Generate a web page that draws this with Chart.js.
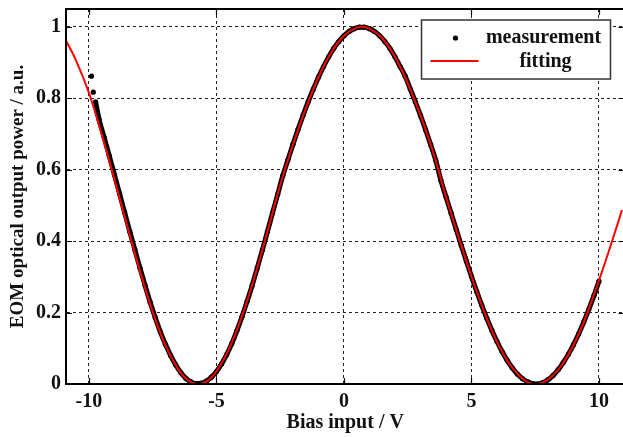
<!DOCTYPE html>
<html>
<head>
<meta charset="utf-8">
<script src="https://cdn.jsdelivr.net/npm/chart.js@4"></script>
<style>
    html, body { margin: 0; padding: 0; background: #fff; overflow: hidden; }
    #wrap { width: 623px; height: 437px; overflow: hidden; }
</style>
</head>
<body>
<div id="wrap"><canvas id="grafico" width="632" height="437"></canvas></div>
<script>
// measured points (bias voltage / normalised power)
const measX = [-9.9, -9.83, -9.74, -9.6, -9.4, -9.2, -9.0, -8.8, -8.6, -8.4, -8.2, -8.0, -7.8, -7.6, -7.4, -7.2, -7.0,
    -6.8, -6.6, -6.4, -6.2, -6.0, -5.8, -5.6, -5.4, -5.2, -5.0, -4.8, -4.6, -4.4, -4.2, -4.0, -3.8, -3.6,
    -3.4, -3.2, -3.0, -2.8, -2.6, -2.4, -2.2, -2.0, -1.8, -1.6, -1.4, -1.2, -1.0, -0.8, -0.6, -0.4, -0.2,
    0.0, 0.2, 0.4, 0.6, 0.8, 1.0, 1.2, 1.4, 1.6, 1.8, 2.0, 2.2, 2.4, 2.6, 2.8, 3.0, 3.2, 3.4, 3.6, 3.8,
    4.0, 4.2, 4.4, 4.6, 4.8, 5.0, 5.2, 5.4, 5.6, 5.8, 6.0, 6.2, 6.4, 6.6, 6.8, 7.0, 7.2, 7.4, 7.6, 7.8,
    8.0, 8.2, 8.4, 8.6, 8.8, 9.0, 9.2, 9.4, 9.6, 9.8, 10.0];
const measY = [0.862, 0.817, 0.790, 0.740, 0.690, 0.638, 0.586, 0.533, 0.480, 0.427, 0.376, 0.325, 0.276, 0.229,
    0.186, 0.146, 0.111, 0.080, 0.054, 0.032, 0.016, 0.006, 0.001, 0.002, 0.008, 0.019, 0.035, 0.056, 0.082,
    0.113, 0.149, 0.188, 0.231, 0.276, 0.325, 0.375, 0.427, 0.479, 0.531, 0.583, 0.627, 0.671, 0.713, 0.753,
    0.791, 0.826, 0.859, 0.889, 0.916, 0.940, 0.959, 0.975, 0.987, 0.995, 0.999, 0.999, 0.995, 0.987, 0.975,
    0.959, 0.940, 0.916, 0.889, 0.862, 0.826, 0.790, 0.752, 0.712, 0.670, 0.626, 0.570, 0.524, 0.479, 0.433,
    0.388, 0.344, 0.301, 0.260, 0.221, 0.184, 0.150, 0.119, 0.091, 0.066, 0.045, 0.028, 0.015, 0.006, 0.001,
    0.000, 0.004, 0.012, 0.024, 0.040, 0.060, 0.083, 0.110, 0.140, 0.173, 0.209, 0.247, 0.288];

// fitted curve
const fitX = [-10.9, -10.5, -10, -9.5, -9, -8.5, -8, -7.5, -7, -6.5, -6.25, -6, -5.72, -5.5, -5.25, -5, -4.5,
    -4, -3.5, -3, -2.5, -2, -1.5, -1, -0.5, 0, 0.5, 0.7, 1, 1.5, 2, 2.5, 3, 3.5, 4, 4.5, 5, 5.5, 6, 6.5, 7,
    7.25, 7.53, 7.75, 8, 8.5, 9, 9.5, 10, 10.5, 10.9];
const fitY = [0.962, 0.905, 0.815, 0.699, 0.573, 0.443, 0.316, 0.202, 0.108, 0.041, 0.019, 0.005, 0, 0.003,
    0.015, 0.035, 0.099, 0.190, 0.301, 0.427, 0.557, 0.670, 0.771, 0.859, 0.928, 0.975, 0.998, 1, 0.995,
    0.968, 0.916, 0.842, 0.752, 0.648, 0.524, 0.410, 0.301, 0.202, 0.118, 0.055, 0.015, 0.004, 0, 0.003,
    0.012, 0.049, 0.109, 0.191, 0.290, 0.397, 0.487];

const xTicks = [-10, -5, 0, 5, 10];
const yTicks = [0, 0.2, 0.4, 0.6, 0.8, 1];
const legendLabels = ['measurement', 'fitting'];

const fonte = "'Liberation Serif', 'Times New Roman', serif";

// frame, inward ticks and the legend box
const molduraPlugin = {
    id: 'moldura',
    afterDraw(chart) {
        const { ctx, chartArea: a, scales: { x, y } } = chart;
        ctx.save();
        ctx.strokeStyle = '#000';
        ctx.lineWidth = 2;
        ctx.strokeRect(a.left, a.top, a.right - a.left, a.bottom - a.top);

        ctx.lineWidth = 1.2;
        ctx.beginPath();
        xTicks.forEach(v => {
            const px = Math.round(x.getPixelForValue(v)) + 0.5;
            ctx.moveTo(px, a.bottom); ctx.lineTo(px, a.bottom - 6);
            ctx.moveTo(px, a.top); ctx.lineTo(px, a.top + 6);
        });
        yTicks.forEach(v => {
            const py = Math.round(y.getPixelForValue(v)) + 0.5;
            ctx.moveTo(a.left, py); ctx.lineTo(a.left + 6, py);
            ctx.moveTo(a.right, py); ctx.lineTo(a.right - 6, py);
        });
        ctx.stroke();

        // legend
        const bx = a.right - 203, by = a.top + 11, bw = 189, bh = 59;
        ctx.fillStyle = '#fff';
        ctx.fillRect(bx, by, bw, bh);
        ctx.strokeStyle = '#333';
        ctx.lineWidth = 1.5;
        ctx.strokeRect(bx, by, bw, bh);

        ctx.fillStyle = '#000';
        ctx.beginPath();
        ctx.arc(bx + 34, by + 18, 2.6, 0, Math.PI * 2);
        ctx.fill();

        ctx.strokeStyle = '#f00';
        ctx.lineWidth = 2;
        ctx.beginPath();
        ctx.moveTo(bx + 9, by + 41);
        ctx.lineTo(bx + 57, by + 41);
        ctx.stroke();

        ctx.fillStyle = '#111';
        ctx.font = 'bold 20px ' + fonte;
        ctx.textAlign = 'center';
        ctx.textBaseline = 'middle';
        ctx.fillText(legendLabels[0], bx + 122, by + 18);
        ctx.fillText(legendLabels[1], bx + 124, by + 42);
        ctx.restore();
    }
};

const fitData = fitX.map((v, i) => ({ x: v, y: fitY[i] }));
const measData = measX.map((v, i) => ({ x: v, y: measY[i] }));

new Chart(document.getElementById('grafico'), {
    type: 'scatter',
    data: {
        datasets: [{
            label: legendLabels[1],
            data: fitData,
            showLine: true,
            borderColor: '#f00',
            borderWidth: 2,
            pointRadius: 0,
            cubicInterpolationMode: 'monotone'
        }, {
            label: legendLabels[0],
            data: measData,
            showLine: true,
            borderColor: '#000',
            borderWidth: 5,
            backgroundColor: '#000',
            pointRadius: 2.6,
            pointBorderWidth: 0,
            cubicInterpolationMode: 'monotone',
            // the first readings are loose dots, not joined to the rest
            segment: {
                borderColor: c => c.p0DataIndex < 2 ? 'rgba(0,0,0,0)' : undefined
            }
        }]
    },
    options: {
        responsive: false,
        animation: false,
        layout: { padding: { left: 0, top: 9, right: 7.5, bottom: 0 } },
        plugins: {
            legend: { display: false },
            tooltip: { enabled: false }
        },
        scales: {
            x: {
                type: 'linear',
                min: -10.9,
                max: 11,
                afterBuildTicks: s => { s.ticks = xTicks.map(v => ({ value: v })); },
                afterFit: s => { s.height = 53; s.paddingLeft = 0; s.paddingRight = 0; },
                grid: { color: '#222', lineWidth: 1, drawTicks: false },
                border: { display: true, color: '#000', width: 2, dash: [3, 3] },
                ticks: {
                    color: '#111',
                    padding: 6,
                    font: { family: fonte, size: 20, weight: 'bold' }
                },
                title: {
                    display: true,
                    text: 'Bias input / V',
                    color: '#111',
                    padding: { top: 0, bottom: 2 },
                    font: { family: fonte, size: 20, weight: 'bold' }
                }
            },
            y: {
                type: 'linear',
                min: 0,
                max: 1.05,
                afterBuildTicks: s => { s.ticks = yTicks.map(v => ({ value: v })); },
                afterFit: s => { s.width = 66; s.paddingTop = 0; s.paddingBottom = 0; },
                grid: { color: '#222', lineWidth: 1, drawTicks: false },
                border: { display: true, color: '#000', width: 2, dash: [3, 3] },
                ticks: {
                    color: '#111',
                    padding: 5,
                    callback: v => String(Number(v.toFixed(1))),
                    font: { family: fonte, size: 20, weight: 'bold' }
                },
                title: {
                    display: true,
                    text: 'EOM optical output power / a.u.',
                    color: '#111',
                    padding: { top: 7, bottom: 0 },
                    font: { family: fonte, size: 19, weight: 'bold' }
                }
            }
        }
    },
    plugins: [molduraPlugin]
});
</script>
</body>
</html>
